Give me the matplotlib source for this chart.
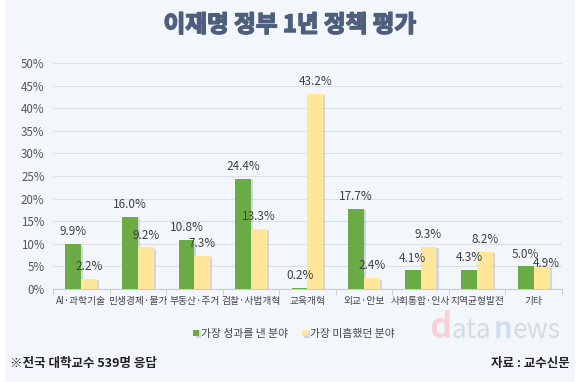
import matplotlib
matplotlib.use("Agg")
import matplotlib.pyplot as plt
import matplotlib.patheffects as pe
import numpy as np
from matplotlib.patches import Rectangle

plt.rcParams['font.family'] = ['Noto Sans CJK KR', 'DejaVu Sans']

categories = ["AI·과학기술", "민생경제·물가", "부동산·주거", "검찰·사법개혁", "교육개혁",
              "외교·안보", "사회통합·인사", "지역균형발전", "기타"]
best = [9.9, 16.0, 10.8, 24.4, 0.2, 17.7, 4.1, 4.3, 5.0]
worst = [2.2, 9.2, 7.3, 13.3, 43.2, 2.4, 9.3, 8.2, 4.9]
series_names = ["가장 성과를 낸 분야", "가장 미흡했던 분야"]
yticks = [0, 5, 10, 15, 20, 25, 30, 35, 40, 45, 50]

W, H = 580, 382
fig = plt.figure(figsize=(W/100, H/100), dpi=100)
fig.patch.set_facecolor("white")
bg = "#f3f7fc"
fig.patches.append(Rectangle((5/W, 0), 570/W, 1, transform=fig.transFigure,
                             facecolor=bg, edgecolor="none", zorder=-10))

ax = fig.add_axes([53/W, 1-289/H, (562-53)/W, (289-63)/H])
ax.set_facecolor(bg)
x = np.arange(len(categories))
bw = 0.28
green = "#6aab45"
yellow = "#ffe699"
shadow = [pe.SimplePatchShadow(offset=(1.5, -1), alpha=0.25, shadow_rgbFace="#777777"), pe.Normal()]
b1 = ax.bar(x - bw/2, best, bw, color=green, zorder=3, path_effects=shadow)
b2 = ax.bar(x + bw/2, worst, bw, color=yellow, zorder=3, path_effects=shadow)
for xi, v in zip(x - bw/2, best):
    ax.text(xi, v + 1.3, f"{v:.1f}%", ha="center", va="bottom", fontsize=8.5, color="#404040", zorder=5)
for i, (xi, v) in enumerate(zip(x + bw/2, worst)):
    off = 1.3
    if abs(v - best[i]) < 1.0:
        off = -0.8  # avoid colliding with neighbouring label
    ax.text(xi + (0.08 if off < 0 else 0), v + off, f"{v:.1f}%", ha="center", va="bottom",
            fontsize=8.5, color="#404040", zorder=5)

ax.set_xlim(-0.5, len(categories) - 0.5)
ax.set_ylim(0, 50)
ax.set_yticks(yticks)
ax.set_yticklabels([f"{t}%" for t in yticks], fontsize=8.3, color="#555555")
ax.yaxis.grid(True, color="#dde1e6", linewidth=0.8, zorder=0)
ax.set_axisbelow(True)
ax.tick_params(axis="y", length=0, pad=6)
ax.set_xticks(x)
ax.set_xticklabels(categories, fontsize=7, color="#444444")
ax.set_xticks(np.arange(len(categories) + 1) - 0.5, minor=True)
ax.tick_params(axis="x", which="major", length=0, pad=5)
ax.tick_params(axis="x", which="minor", length=4, color="#cccccc")
for s in ["top", "right", "left"]:
    ax.spines[s].set_visible(False)
ax.spines["bottom"].set_color("#cccccc")

title_color = "#4e5f7d"
fig.text(0.5, 1-25/H, "이재명 정부 1년 정책 평가", ha="center", va="center",
         fontsize=17, fontweight="bold", color=title_color,
         path_effects=[pe.withStroke(linewidth=1.1, foreground=title_color)])

# watermark
wm_base = 1-338/H
fig.text(429/W, wm_base, "d", ha="left", va="baseline", fontsize=25, fontweight="bold", color="#f5d3d8")
fig.text(451/W, wm_base, "ata", ha="left", va="baseline", fontsize=19, color="#d6dbe1")
fig.text(494/W, wm_base, "n", ha="left", va="baseline", fontsize=21, fontweight="bold", color="#cfe0f2")
fig.text(513/W, wm_base, "ews", ha="left", va="baseline", fontsize=19, color="#d6dbe1")

fig.legend([b1, b2], series_names, loc="center", bbox_to_anchor=(294/W, 1-334/H),
           ncol=2, frameon=False, fontsize=7.8, handlelength=0.5, handleheight=0.5,
           handletextpad=0.2, columnspacing=1.3, labelcolor="#444444")

fig.text(10/W, 1-364/H, "※전국 대학교수 539명 응답", ha="left", va="center",
         fontsize=9, fontweight="bold", color="#222222")
fig.text(570/W, 1-364/H, "자료 : 교수신문", ha="right", va="center",
         fontsize=9, fontweight="bold", color="#222222")

fig.savefig("out.png", dpi=100, facecolor=fig.get_facecolor())
